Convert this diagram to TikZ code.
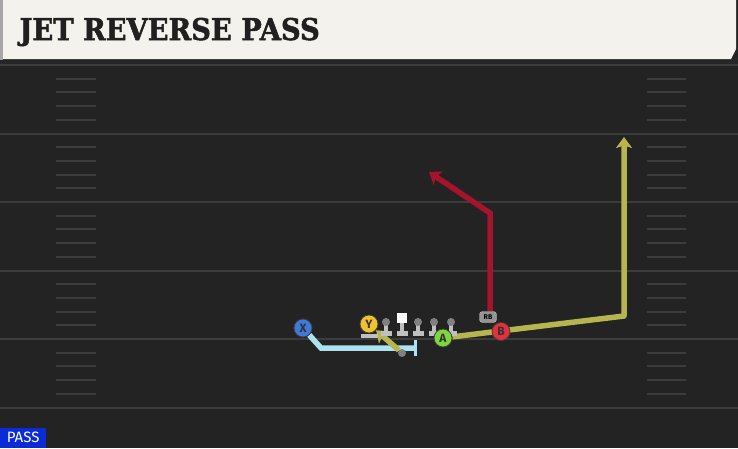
\documentclass[tikz,border=0pt]{standalone}
\usepackage{fontspec}
\usepackage{tikz}
\usetikzlibrary{arrows.meta,positioning}
\newfontfamily\titlefont[FakeStretch=0.91,FakeBold=1.6]{DejaVu Serif}
\newfontfamily\tagfont{Fira Sans}
\definecolor{field}{HTML}{232323}
\definecolor{yardline}{HTML}{3C3C3C}
\definecolor{banner}{HTML}{F4F2EC}
\definecolor{xblue}{HTML}{3C7ADB}
\definecolor{yyellow}{HTML}{F2C12E}
\definecolor{agreen}{HTML}{7FD83B}
\definecolor{bred}{HTML}{E2313C}
\definecolor{olive}{HTML}{B7B54F}
\definecolor{cyanroute}{HTML}{ADE3F0}
\definecolor{redroute}{HTML}{A5132D}
\definecolor{passblue}{HTML}{0B2BD6}
\pgfdeclarelayer{ground}
\pgfdeclarelayer{routes}
\pgfsetlayers{ground,routes,main}

\begin{document}
\begin{tikzpicture}[x=1pt,y=-1pt,>={Stealth[length=11pt,width=16pt,inset=2.5pt]}]
  \tikzstyle{player}=[circle,draw={rgb:black,3;white,1},line width=0.8pt,minimum size=18pt,inner sep=0pt,font=\tagfont\bfseries\fontsize{12}{12}\selectfont,text={rgb:black,4;white,1}]
  \tikzstyle{route}=[line width=5.5pt]
  \tikzstyle{hash}=[draw=yardline,line width=2pt]
  \tikzstyle{lineman}=[fill={rgb:black,1;white,3}]
  \useasboundingbox (0,0) rectangle (738,448);

  \begin{pgfonlayer}{ground}
    \fill[field] (0,0) rectangle (738,448);
    \foreach \y in {65,133.5,202,270.5,339,407.5}
      \draw[yardline,line width=2pt] (0,\y) -- (738,\y);
    \foreach \y in {65,133.5,202,270.5,339}
      \foreach \k in {1,...,4} {
        \draw[hash] (56,\y+\k*13.7) -- (96,\y+\k*13.7);
        \draw[hash] (647,\y+\k*13.7) -- (686,\y+\k*13.7);
      }
    % title banner
    \fill[black!85] (0,58) rectangle (738,64);
    \fill[banner] (3,0) -- (736,0) -- (736,49) -- (731,59) -- (3,59) -- cycle;
    \fill[gray!70] (0,0) rectangle (3,60);
  \end{pgfonlayer}

  \node[anchor=west,text={rgb:black,7;white,1},font=\titlefont\bfseries\fontsize{30}{30}\selectfont] (title) at (16,32) {JET REVERSE PASS};

  % line
  \foreach \x in {386,418,434,451} {
    \fill[lineman] (\x-5.5,331) rectangle (\x+5.5,336);
    \fill[lineman] (\x-2,322) rectangle (\x+2,332);
    \fill[gray] (\x,322) circle (4pt);
  }
  \fill[lineman] (396.5,331) rectangle (407.5,336);
  \fill[lineman] (400,320) rectangle (404,332);
  \node[fill=white,minimum size=10pt,inner sep=0pt] (C) at (402,318) {};
  \fill[lineman] (361,334) rectangle (378,338);

  % players
  \node[player,fill=xblue] (X) at (303,328) {X};
  \node[player,fill=yyellow] (Y) at (369,324) {Y};
  \node[player,fill=agreen] (A) at (443,338) {A};
  \node[player,fill=bred] (B) at (501,331.5) {B};
  \node[fill={rgb:black,1;white,1.4},draw={rgb:black,1;white,3},rounded corners=3pt,inner sep=0pt,minimum width=17pt,minimum height=11pt,font=\tagfont\bfseries\fontsize{7}{7}\selectfont] (RB) at (488,317) {RB};
  \node[circle,fill=gray,minimum size=8pt,inner sep=0pt] (qb) at (402,353) {};

  \coordinate (xturn) at (321,348);
  \coordinate (xend) at (417,348);
  \coordinate (aturn) at (624,316);
  \coordinate (aend) at (624,137);
  \coordinate (rbturn) at (490,213);
  \coordinate (rbend) at (429,172);

  \begin{pgfonlayer}{routes}
    \draw[route,cyanroute,-{Bar[width=16pt,line width=3pt]}] (X) -- (xturn) -- (xend);
    \draw[route,olive,->] (qb) -- (Y);
    \draw[route,olive,->,line join=round] (A) -- (aturn) -- (aend);
    \draw[route,redroute,->] (RB.north -| rbturn) -- (rbturn) -- (rbend);
  \end{pgfonlayer}

  \node[fill=passblue,text=white,anchor=south west,inner sep=0pt,minimum width=46pt,minimum height=20pt,font=\tagfont\fontsize{15}{15}\selectfont] (tag) at (0,448) {PASS};
\end{tikzpicture}
\end{document}
